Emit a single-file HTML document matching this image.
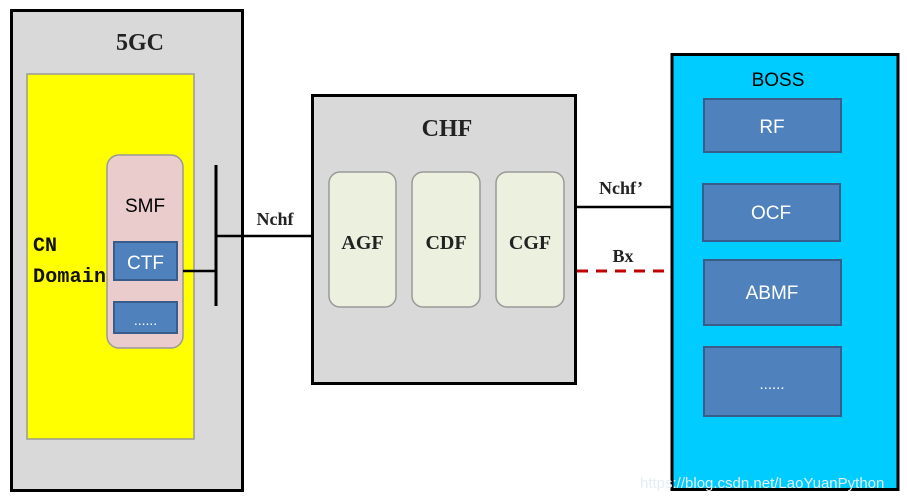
<!DOCTYPE html>
<html><head><meta charset="utf-8"><style>
html,body{margin:0;padding:0;background:#fff;width:907px;height:499px;overflow:hidden}
svg{display:block}
.serif{font-family:"Liberation Serif",serif;font-weight:bold}
.mono{font-family:"Liberation Mono",monospace;font-weight:bold}
.sans{font-family:"Liberation Sans",sans-serif}
</style></head><body>
<svg width="907" height="499" viewBox="0 0 907 499" xmlns="http://www.w3.org/2000/svg">
<!-- 5GC -->
<rect x="11.5" y="10.5" width="231" height="480" fill="#d9d9d9" stroke="#000" stroke-width="3"/>
<text x="140" y="50" class="serif" font-size="24" text-anchor="middle" fill="#222">5GC</text>
<rect x="27" y="74" width="167" height="365" fill="#ffff00" stroke="#999" stroke-width="1.5"/>
<text x="33" y="251" class="mono" font-size="20" fill="#111">CN</text>
<text x="33" y="282" class="mono" font-size="20" fill="#111" textLength="73">Domain</text>
<rect x="107" y="155" width="76" height="193" rx="12" fill="#eacccc" stroke="#999" stroke-width="1.5"/>
<text x="145" y="212" class="sans" font-size="19" text-anchor="middle" fill="#000">SMF</text>
<rect x="114" y="242" width="63" height="38" fill="#4f81bd" stroke="#385d8a" stroke-width="2"/>
<text x="145.5" y="269" class="sans" font-size="19" text-anchor="middle" fill="#fff">CTF</text>
<rect x="114" y="302" width="63" height="31" fill="#4f81bd" stroke="#385d8a" stroke-width="2"/>
<text x="145.5" y="325" class="sans" font-size="14" text-anchor="middle" fill="#fff">......</text>
<!-- connectors -->
<line x1="216" y1="165" x2="216" y2="306" stroke="#000" stroke-width="3"/>
<line x1="183" y1="271" x2="216" y2="271" stroke="#000" stroke-width="2.5"/>
<line x1="216" y1="236" x2="312" y2="236" stroke="#000" stroke-width="2.5"/>
<text x="275" y="225" class="serif" font-size="18" text-anchor="middle" fill="#222">Nchf</text>
<!-- CHF -->
<rect x="312.5" y="95.5" width="263" height="288" fill="#d9d9d9" stroke="#000" stroke-width="3"/>
<text x="447" y="136" class="serif" font-size="24" text-anchor="middle" fill="#222">CHF</text>
<rect x="329" y="172" width="67" height="135" rx="11" fill="#ebf1de" stroke="#999" stroke-width="1.5"/>
<rect x="412" y="172" width="68" height="135" rx="11" fill="#ebf1de" stroke="#999" stroke-width="1.5"/>
<rect x="496" y="172" width="68" height="135" rx="11" fill="#ebf1de" stroke="#999" stroke-width="1.5"/>
<text x="362.5" y="249" class="serif" font-size="20" text-anchor="middle" fill="#222">AGF</text>
<text x="446" y="249" class="serif" font-size="20" text-anchor="middle" fill="#222">CDF</text>
<text x="530" y="249" class="serif" font-size="20" text-anchor="middle" fill="#222">CGF</text>
<line x1="576" y1="207" x2="671" y2="207" stroke="#000" stroke-width="2.5"/>
<text x="621" y="194" class="serif" font-size="18" text-anchor="middle" fill="#222">Nchf’</text>
<line x1="577" y1="271" x2="670" y2="271" stroke="#c00000" stroke-width="3" stroke-dasharray="11,8"/>
<text x="623" y="262" class="serif" font-size="18" text-anchor="middle" fill="#222">Bx</text>
<!-- BOSS -->
<rect x="672" y="54.5" width="226" height="435" fill="#00ccff" stroke="#000" stroke-width="3"/>
<text x="778" y="86" class="sans" font-size="19" text-anchor="middle" fill="#000">BOSS</text>
<rect x="704" y="99" width="137" height="53" fill="#4f81bd" stroke="#385d8a" stroke-width="2"/>
<text x="772" y="133" class="sans" font-size="19" text-anchor="middle" fill="#fff">RF</text>
<rect x="703" y="184" width="137" height="57" fill="#4f81bd" stroke="#385d8a" stroke-width="2"/>
<text x="771" y="219" class="sans" font-size="19" text-anchor="middle" fill="#fff">OCF</text>
<rect x="704" y="260" width="137" height="65" fill="#4f81bd" stroke="#385d8a" stroke-width="2"/>
<text x="772" y="299" class="sans" font-size="19" text-anchor="middle" fill="#fff">ABMF</text>
<rect x="704" y="347" width="137" height="69" fill="#4f81bd" stroke="#385d8a" stroke-width="2"/>
<text x="772" y="389" class="sans" font-size="15" text-anchor="middle" fill="#fff">......</text>
<text x="640" y="488" class="sans" font-size="15" fill="#e4eef4">https://blog.csdn.net/LaoYuanPython</text>
</svg>
</body></html>
